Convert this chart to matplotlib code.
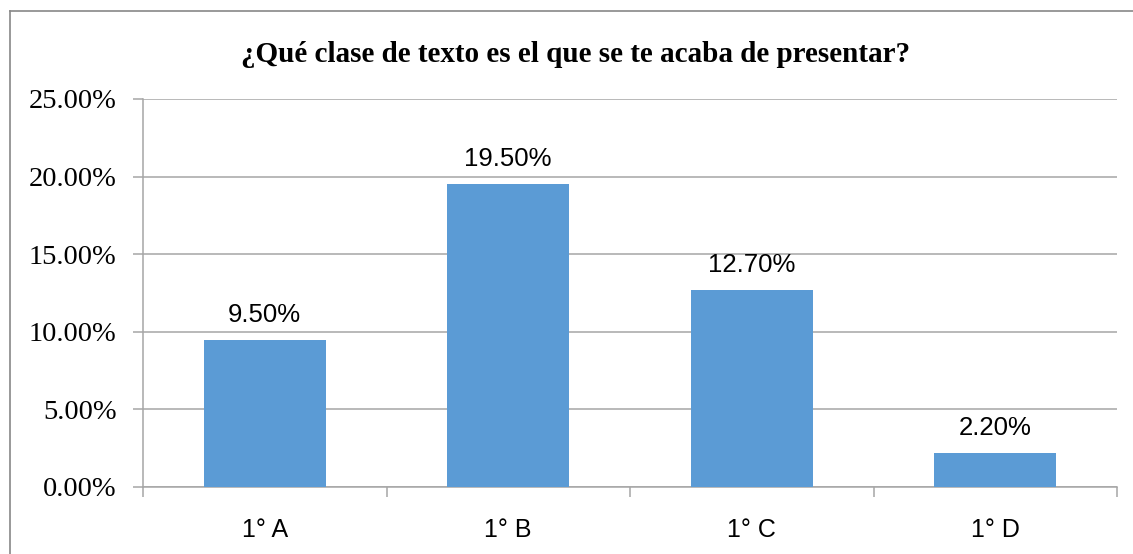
import matplotlib.pyplot as plt
from matplotlib.lines import Line2D
from matplotlib.ticker import FuncFormatter

titulo = "¿Qué clase de texto es el que se te acaba de presentar?"
grupos = ["1° A", "1° B", "1° C", "1° D"]
porcentajes = [9.5, 19.5, 12.7, 2.2]
yticks = [0, 5, 10, 15, 20, 25]

W, H = 1133, 554
fig = plt.figure(figsize=(W / 100, H / 100), dpi=100)
ax = fig.add_axes([143 / W, 1 - 487 / H, 974 / W, 388 / H])

x = list(range(len(grupos)))
ax.bar(x, porcentajes, width=0.5, color="#5B9BD5", zorder=3)

ax.set_xlim(-0.5, len(grupos) - 0.5)
ax.set_ylim(0, 25)
ax.set_yticks(yticks)
ax.yaxis.set_major_formatter(FuncFormatter(lambda v, p: "%.2f%%" % v))
ax.grid(axis="y", color="#A6A6A6", linewidth=1.1, zorder=0)

for s in ["top", "right"]:
    ax.spines[s].set_visible(False)
ax.spines["left"].set_color("#A6A6A6")
ax.spines["bottom"].set_color("#A6A6A6")
ax.spines["left"].set_linewidth(1.1)
ax.spines["bottom"].set_linewidth(1.1)

ax.set_xticks(x)
ax.set_xticklabels(grupos, fontsize=18, family="Liberation Sans")
ax.set_xticks([i - 0.5 for i in range(len(grupos) + 1)], minor=True)
ax.tick_params(axis="x", which="major", length=0, pad=22)
ax.tick_params(axis="x", which="minor", length=7, width=1.1, color="#A6A6A6", direction="out")
ax.tick_params(axis="y", length=7, width=1.1, color="#A6A6A6", pad=12)
for lbl in ax.get_yticklabels():
    lbl.set_family("Liberation Serif")
    lbl.set_fontsize(20.5)

for xi, v in zip(x, porcentajes):
    ax.annotate("%.2f%%" % v, (xi, v), xytext=(0, 13), textcoords="offset points",
                ha="center", va="baseline", fontsize=18.5, family="Liberation Sans")

fig.text(576 / W, 1 - 62 / H, titulo, ha="center", va="baseline", fontsize=21,
         fontweight="bold", family="Liberation Serif")

# borde del grafico (solo izquierda y arriba)
fig.add_artist(Line2D([10 / W, 10 / W], [0, 1 - 11 / H], transform=fig.transFigure,
                      color="#888888", linewidth=1.2))
fig.add_artist(Line2D([10 / W, 1], [1 - 11 / H, 1 - 11 / H], transform=fig.transFigure,
                      color="#888888", linewidth=1.2))

fig.savefig("out.png", dpi=100)
